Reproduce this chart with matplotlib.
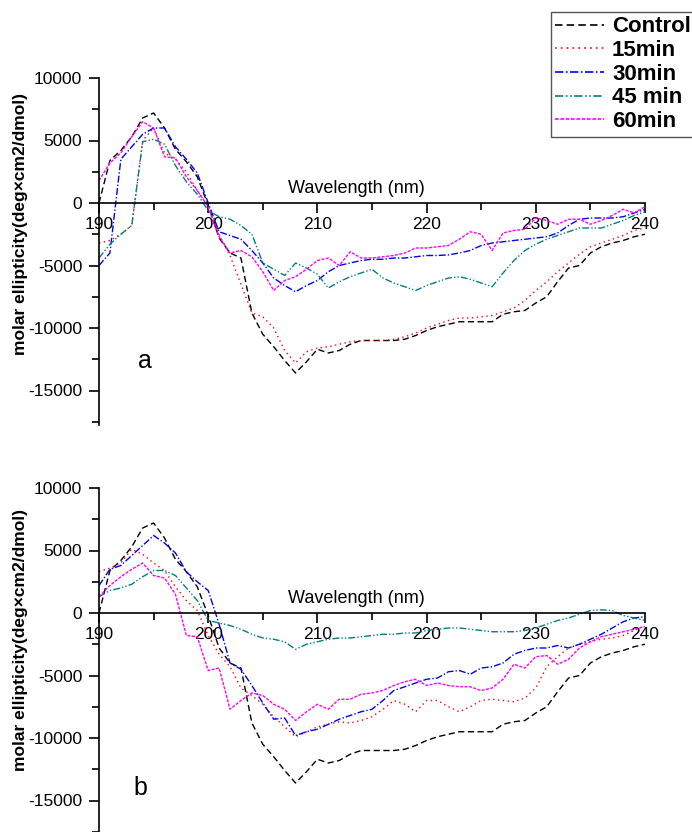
import numpy as np
import matplotlib
matplotlib.use("Agg")
import matplotlib.pyplot as plt
from matplotlib.ticker import MultipleLocator
from matplotlib.lines import Line2D

plt.rcParams["font.family"] = ["Liberation Sans", "DejaVu Sans"]
plt.rcParams["axes.unicode_minus"] = False

# wavelength grid (nm), 1 nm steps
wl = np.arange(190, 241)

labels = ["Control", "15min", "30min", "45 min", "60min"]

# control is the same curve in both panels
control = [0, 3400, 4200, 5300, 6800, 7200, 6000, 4300, 3300, 2100,
           -200, -2800, -4000, -4400, -8800, -10500, -11500, -12600, -13600, -12700,
           -11700, -12000, -11800, -11300, -11000, -11000, -11000, -11000, -10900, -10600,
           -10200, -9900, -9700, -9500, -9500, -9500, -9500, -8900, -8700, -8600,
           -8000, -7500, -6300, -5200, -5000, -4000, -3500, -3200, -3000, -2700, -2500]

# panel a
a_15 = [-3200, -3000, -2500, -1800, 5000, 6000, 4000, 3500, 2500, 1000,
        -300, -2500, -4200, -6500, -8800, -9100, -10000, -11800, -12800, -11900,
        -11600, -11500, -11300, -11100, -11000, -11000, -11000, -10900, -10700, -10400,
        -10000, -9700, -9400, -9200, -9200, -9100, -9000, -8700, -8400, -7800,
        -7000, -6300, -5500, -4800, -4100, -3500, -3200, -2900, -2600, -2200, -2000]
a_30 = [-5000, -4000, 3500, 4500, 5500, 6000, 6000, 4500, 3500, 2400,
        0, -2300, -2600, -2900, -3800, -4800, -6000, -6600, -7100, -6600,
        -6200, -5500, -5000, -4800, -4600, -4500, -4500, -4400, -4400, -4300,
        -4200, -4200, -4150, -4000, -3800, -3400, -3200, -3100, -3000, -2900,
        -2800, -2700, -2400, -1800, -1300, -1200, -1200, -1200, -1100, -800, -500]
a_45 = [-4400, -3300, -2500, -1800, 4900, 5100, 4700, 3000, 1700, 700,
        -600, -1100, -1300, -1800, -2500, -4800, -5300, -5800, -4800, -5200,
        -5700, -6800, -6300, -5900, -5600, -5300, -6000, -6400, -6700, -7000,
        -6600, -6300, -6000, -5900, -6100, -6400, -6700, -5600, -4600, -3800,
        -3300, -2900, -2600, -2300, -2000, -2000, -2000, -1700, -1400, -1000, -700]
a_60 = [1800, 3200, 4000, 5300, 6500, 6000, 3700, 3600, 2100, 1000,
        -300, -2700, -4000, -3800, -4300, -5500, -7000, -6200, -5900, -5300,
        -4600, -4400, -5000, -3900, -4400, -4400, -4300, -4200, -4000, -3600,
        -3600, -3500, -3400, -2900, -2300, -2500, -3800, -2400, -2200, -2100,
        -1200, -1400, -1700, -1300, -1300, -1700, -1400, -1000, -500, -800, -300]

# panel b
b_15 = [3300, 3600, 4000, 5100, 4700, 4000, 3400, 2100, 1000, 200,
        -1800, -3300, -4300, -6000, -6600, -7300, -8300, -9100, -9900, -9500,
        -9100, -8900, -8700, -8800, -8600, -8300, -7700, -7000, -7300, -7900,
        -7000, -7000, -7500, -7900, -7500, -7000, -6900, -7000, -7100, -6800,
        -6000, -4300, -3500, -2800, -2500, -2300, -2100, -2000, -1800, -1400, -1000]
b_30 = [2200, 3500, 3800, 4600, 5400, 6200, 5600, 4800, 3300, 2500,
        1800, -900, -4000, -4500, -5800, -7200, -8500, -8400, -9800, -9500,
        -9300, -8900, -8500, -8200, -7900, -7700, -7000, -6200, -5900, -5600,
        -5300, -5200, -4700, -4600, -4900, -4400, -4300, -4000, -3300, -3000,
        -2800, -2800, -2600, -2800, -2500, -2100, -1700, -1200, -700, -400, -300]
b_45 = [1300, 1800, 2000, 2300, 2900, 3400, 3400, 3000, 2000, 1000,
        -600, -800, -1000, -1300, -1700, -2000, -2100, -2300, -2900, -2500,
        -2300, -2100, -2000, -2000, -1900, -1800, -1700, -1700, -1600, -1600,
        -1400, -1300, -1200, -1200, -1300, -1400, -1500, -1500, -1500, -1400,
        -1200, -900, -600, -400, -100, 200, 250, 200, -200, -400, -600]
b_60 = [1300, 2200, 2900, 3500, 4000, 3000, 2800, 1500, -1800, -1900,
        -4600, -4400, -7700, -7000, -6400, -6600, -7300, -7700, -8600, -7900,
        -7300, -7700, -6900, -6900, -6500, -6400, -6200, -5800, -5500, -5300,
        -5800, -5600, -5800, -5900, -5900, -6200, -6000, -5300, -4100, -4400,
        -3500, -3400, -4100, -3700, -2800, -2300, -1900, -1700, -1500, -1300, -1100]

colors = ["black", "#ff0000", "#0000ff", "#008080", "#ff00ff"]
dashes = [(4.5, 2.5), (1, 2.5), (5, 1.5, 1, 1.5), (5, 1.5, 1, 1.5, 1, 1.5), (2.2, 1)]

fig = plt.figure(figsize=(6.92, 8.32), dpi=100)
W, H = 692, 832


def panel(rect, series, ylim, letter, letter_xy, ylab_y):
    ax = fig.add_axes(rect)
    for s, c, d in zip(series, colors, dashes):
        ax.plot(wl, s, color=c, lw=1.0, dashes=d)
    ax.set_xlim(190, 240)
    ax.set_ylim(*ylim)
    ax.spines["top"].set_visible(False)
    ax.spines["right"].set_visible(False)
    ax.spines["bottom"].set_position(("data", 0))
    for sp in ("left", "bottom"):
        ax.spines[sp].set_linewidth(1.2)
    ax.xaxis.set_major_locator(MultipleLocator(10))
    ax.xaxis.set_minor_locator(MultipleLocator(5))
    ax.yaxis.set_major_locator(MultipleLocator(5000))
    ax.yaxis.set_minor_locator(MultipleLocator(2500))
    ax.tick_params(axis="both", which="major", direction="out", length=7, width=1.2,
                   labelsize=12.5, pad=3)
    ax.tick_params(axis="y", which="major", pad=5)
    ax.tick_params(axis="both", which="minor", direction="out", length=5, width=1.2)
    ax.set_yticks([10000, 5000, 0, -5000, -10000, -15000])
    ax.text(213.6, 500, "Wavelength (nm)", fontsize=13, ha="center", va="bottom")
    ax.text(letter_xy[0], letter_xy[1], letter, fontsize=18, ha="center", va="center")
    fig.text(21 / W, 1 - ylab_y / H, "molar ellipticity(deg\u00d7cm2/dmol)", rotation=90,
             fontsize=12.5, fontweight="bold", ha="center", va="center")
    return ax


# panel a: 10000 at y=78 px, 0 at y=203 px (12.5 px per 1000)
panel([99 / W, 1 - 425 / H, 546 / W, 347 / H], [control, a_15, a_30, a_45, a_60],
      (-17760, 10000), "a", (194.2, -12600), 224)
# panel b: 10000 at y=488 px, 0 at y=613 px
panel([99 / W, 0, 546 / W, 344 / H], [control, b_15, b_30, b_45, b_60],
      (-17520, 10000), "b", (193.8, -14000), 640)

handles = [Line2D([], [], color=c, lw=1.2, dashes=d) for c, d in zip(colors, dashes)]
leg = fig.legend(handles, labels, loc="upper left", bbox_to_anchor=(551 / W, 1 - 12 / H),
                 borderaxespad=0, fancybox=False, framealpha=1, edgecolor="#555555",
                 prop={"size": 16, "weight": "bold"}, handlelength=2.2, handletextpad=0.35,
                 labelspacing=0.12, borderpad=0.2)
leg.get_frame().set_linewidth(1.0)

fig.savefig("out.png", dpi=100)
